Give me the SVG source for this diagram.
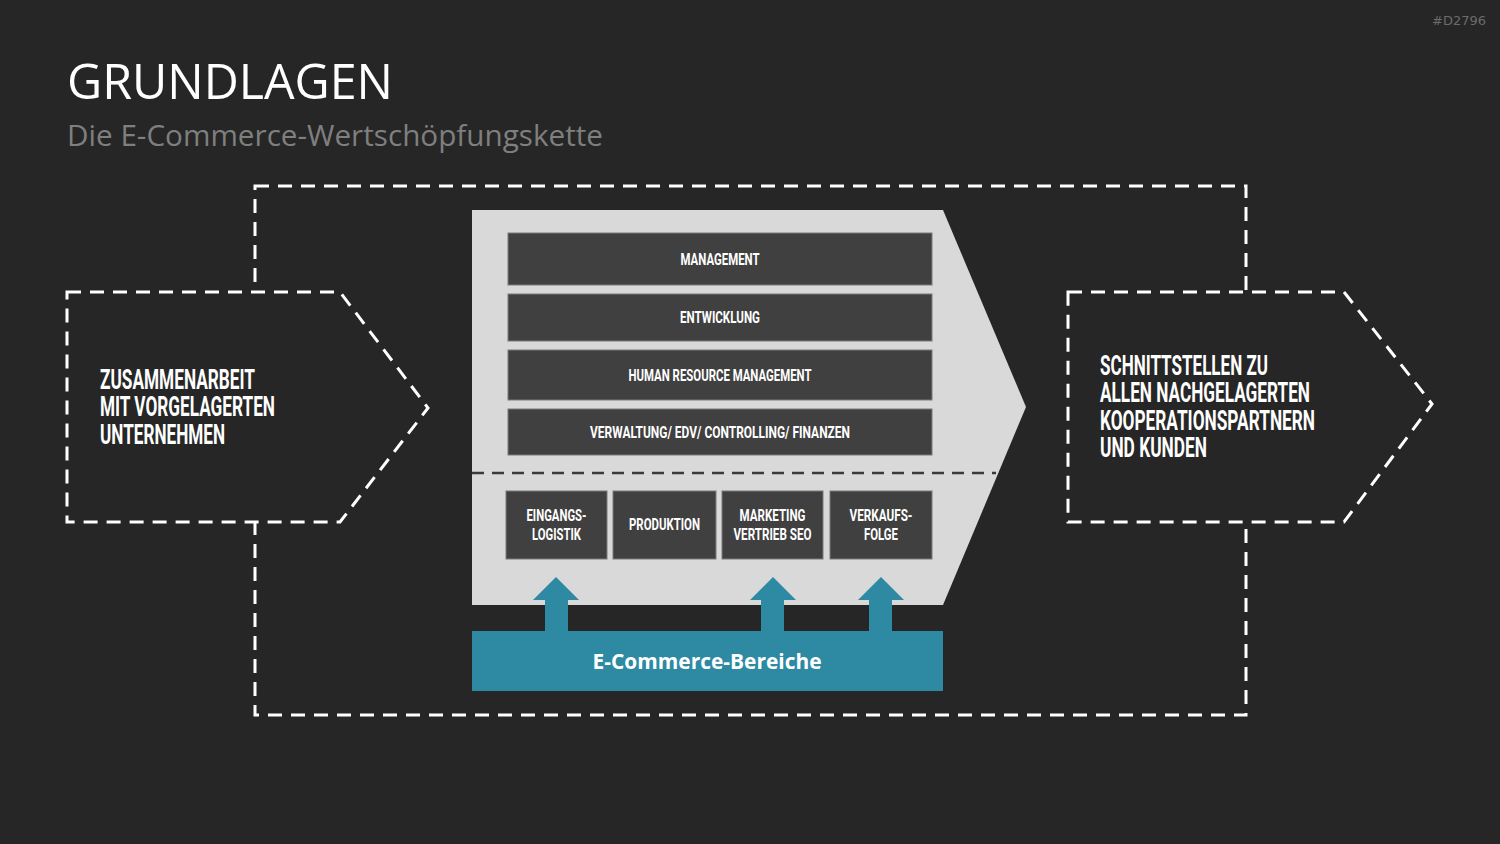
<svg xmlns="http://www.w3.org/2000/svg" width="1500" height="844" viewBox="0 0 1500 844">
<defs>
<style>
.dash{fill:none;stroke:#ffffff;stroke-width:3;stroke-dasharray:14 9}
.pent{fill:#262626;stroke:#ffffff;stroke-width:3;stroke-dasharray:14 9}
.bar{fill:#404040;stroke:#7a7a7a;stroke-width:1}
.cond{font-family:Roboto,"Liberation Sans",sans-serif;font-weight:bold;fill:#ffffff}
.lbl{font-size:17px;text-anchor:middle}
.big{font-size:27px}
.teal{fill:#2d8aa2}
</style>
</defs>
<rect width="1500" height="844" fill="#262626"/>
<text x="1486" y="25" font-family="'DejaVu Sans',sans-serif" font-size="13" fill="#6b6b6b" text-anchor="end">#D2796</text>
<text x="67" y="99" font-family="'Open Sans','Liberation Sans',sans-serif" font-size="49" fill="#ffffff" textLength="326" lengthAdjust="spacingAndGlyphs">GRUNDLAGEN</text>
<text x="67" y="146" font-family="'Open Sans','Liberation Sans',sans-serif" font-size="29" fill="#7f7f7f" textLength="536" lengthAdjust="spacingAndGlyphs">Die E-Commerce-Wertschöpfungskette</text>

<g id="connectors">
<rect class="dash" x="255" y="186" width="991" height="529"/>
</g>

<g id="left-node">
<polygon class="pent" points="67,292 340,292 428,408 340,522 67,522"/>
<text class="cond big" x="100" y="389" textLength="155" lengthAdjust="spacingAndGlyphs">ZUSAMMENARBEIT</text>
<text class="cond big" x="100" y="416" textLength="175" lengthAdjust="spacingAndGlyphs">MIT VORGELAGERTEN</text>
<text class="cond big" x="100" y="444" textLength="125" lengthAdjust="spacingAndGlyphs">UNTERNEHMEN</text>
</g>

<g id="right-node">
<polygon class="pent" points="1068,292 1344,292 1432,404 1344,522 1068,522"/>
<text class="cond big" x="1100" y="375" textLength="168" lengthAdjust="spacingAndGlyphs">SCHNITTSTELLEN ZU</text>
<text class="cond big" x="1100" y="402" textLength="210" lengthAdjust="spacingAndGlyphs">ALLEN NACHGELAGERTEN</text>
<text class="cond big" x="1100" y="430" textLength="215" lengthAdjust="spacingAndGlyphs">KOOPERATIONSPARTNERN</text>
<text class="cond big" x="1100" y="457" textLength="107" lengthAdjust="spacingAndGlyphs">UND KUNDEN</text>
</g>

<g id="value-chain">
<polygon points="472,210 943,210 1026,407 943,605 472,605" fill="#d9d9d9"/>
<line x1="472" y1="473" x2="996" y2="473" stroke="#3a3a3a" stroke-width="2.5" stroke-dasharray="12 8"/>
</g>

<g id="bar-management">
<rect class="bar" x="508" y="233" width="424" height="52"/>
<text class="cond lbl" x="720" y="265" textLength="79" lengthAdjust="spacingAndGlyphs">MANAGEMENT</text>
</g>
<g id="bar-entwicklung">
<rect class="bar" x="508" y="294" width="424" height="47"/>
<text class="cond lbl" x="720" y="323" textLength="80" lengthAdjust="spacingAndGlyphs">ENTWICKLUNG</text>
</g>
<g id="bar-hrm">
<rect class="bar" x="508" y="350" width="424" height="50"/>
<text class="cond lbl" x="720" y="381" textLength="183" lengthAdjust="spacingAndGlyphs">HUMAN RESOURCE MANAGEMENT</text>
</g>
<g id="bar-verwaltung">
<rect class="bar" x="508" y="409" width="424" height="46"/>
<text class="cond lbl" x="720" y="438" textLength="260" lengthAdjust="spacingAndGlyphs">VERWALTUNG/ EDV/ CONTROLLING/ FINANZEN</text>
</g>

<g id="box-eingangslogistik">
<rect class="bar" x="506" y="491" width="101" height="68"/>
<text class="cond lbl" x="556.5" y="521" textLength="60" lengthAdjust="spacingAndGlyphs">EINGANGS-</text>
<text class="cond lbl" x="556.5" y="540" textLength="49" lengthAdjust="spacingAndGlyphs">LOGISTIK</text>
</g>
<g id="box-produktion">
<rect class="bar" x="613" y="491" width="103" height="68"/>
<text class="cond lbl" x="664.5" y="530" textLength="71" lengthAdjust="spacingAndGlyphs">PRODUKTION</text>
</g>
<g id="box-marketing">
<rect class="bar" x="722" y="491" width="101" height="68"/>
<text class="cond lbl" x="772.5" y="521" textLength="66" lengthAdjust="spacingAndGlyphs">MARKETING</text>
<text class="cond lbl" x="772.5" y="540" textLength="78" lengthAdjust="spacingAndGlyphs">VERTRIEB SEO</text>
</g>
<g id="box-verkaufsfolge">
<rect class="bar" x="830" y="491" width="102" height="68"/>
<text class="cond lbl" x="881" y="521" textLength="63" lengthAdjust="spacingAndGlyphs">VERKAUFS-</text>
<text class="cond lbl" x="881" y="540" textLength="34" lengthAdjust="spacingAndGlyphs">FOLGE</text>
</g>

<g id="arrows">
<polygon class="teal" points="556,577 579,600 568,600 568,632 545,632 545,600 533,600"/>
<polygon class="teal" points="773,577 796,600 784,600 784,632 761,632 761,600 750,600"/>
<polygon class="teal" points="881,577 904,600 892,600 892,632 869,632 869,600 858,600"/>
</g>

<g id="ecommerce-bereiche">
<rect class="teal" x="472" y="631" width="471" height="60"/>
<text x="707" y="669" font-family="'Open Sans','Liberation Sans',sans-serif" font-weight="bold" font-size="21" fill="#ffffff" text-anchor="middle" textLength="229" lengthAdjust="spacingAndGlyphs">E-Commerce-Bereiche</text>
</g>
</svg>
